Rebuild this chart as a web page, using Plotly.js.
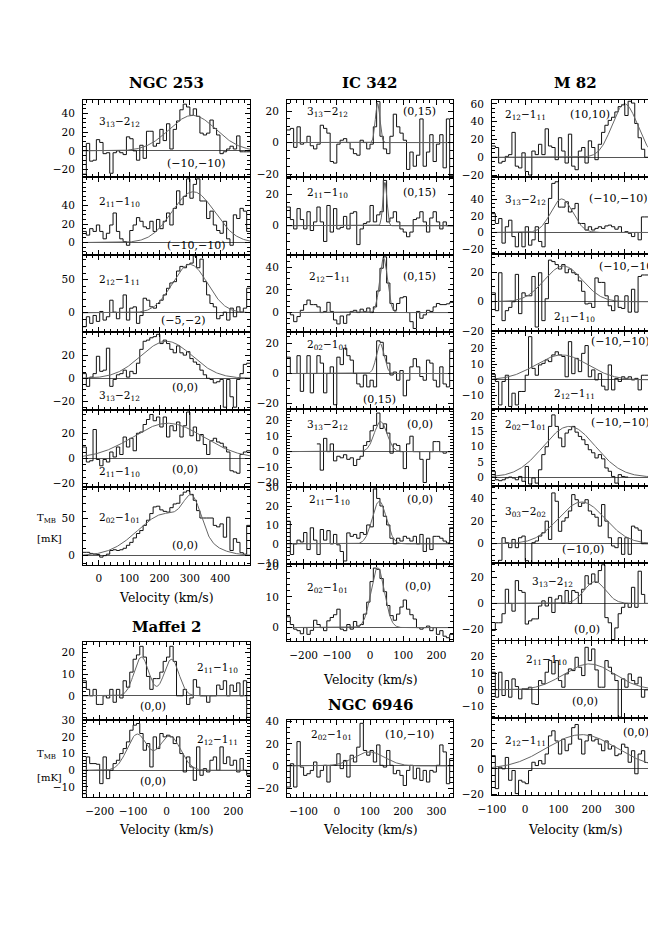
<!DOCTYPE html>
<html>
<head>
<meta charset="utf-8">
<script src="https://cdn.plot.ly/plotly-3.0.1.min.js"></script>
<style>html,body{margin:0;padding:0;overflow:hidden;background:#fff}</style>
</head>
<body>
<div id="chart"></div>
<script>
// Spectra: each list starts at the left edge of its velocity axis.
// Channel widths (km/s)
const dv_n253 = 11, dv_maf = 10, dv_ic = 10, dv_n6946 = 10, dv_m82 = 10;

// NGC 253
const n253_313a = [-25, 8, -11, -10, 12, 9, -3, -2, -24, -2, 0, -2, -4, 15, 13, 0, -10, 6, -8, 21, 21, 5, 8, 23, 11, 29, 2, 23, 32, 44, 50, 47, 38, 45, 37, 19, 17, 19, 33, 24, 17, -3, -1, 2, 5, 2, 16, -1, -1, -1];
const n253_211a = [12, 8, 15, 12, 19, 12, 4, 10, 19, 32, 12, 4, 1, -3, 13, 19, 27, 23, 17, 15, 23, 12, 25, 15, 23, 32, 19, 37, 56, 41, 50, 69, 48, 63, 69, 45, 45, 26, 34, 19, 13, 10, 23, 4, -3, 30, 26, 37, 34, 12];
const n253_212 = [-21, -6, -16, -4, -13, 2, -11, -6, 19, 1, -9, 7, 27, -11, 7, 9, -16, -4, 22, 19, 9, 7, 14, 19, 27, 37, 45, 47, 63, 70, 68, 73, 75, 86, 68, 81, 47, 27, 14, 9, -9, -4, 1, -11, 7, -6, 9, 1, 7, 37];
const n253_313b = [4, -7, 1, 4, 19, 6, 7, 26, -7, -1, 3, 4, 7, 1, 6, 4, 13, 25, 32, 33, 35, 36, 38, 30, 33, 30, 25, 22, 28, 22, 20, 23, 17, 14, 12, 7, 3, 0, -1, -4, -3, -1, -25, -1, -16, -25, -1, 4, 12, 13];
const n253_211b = [9, -3, -2, 23, -1, -6, -1, -3, 5, 1, 9, 3, 17, 9, 16, 6, 20, 21, 27, 31, 35, 30, 33, 25, 33, 17, 26, 22, 29, 17, 26, 37, 18, 25, 14, 19, 11, 3, 14, 16, 13, 12, 9, 5, -10, -11, -12, 3, 5, 6];
const n253_202 = [4.5, 4.5, 3, 2, 1.5, -2, 0, 2, 7, 8, 7, 8, 10, 14, 18, 24, 30, 34, 41, 48, 57, 66, 67, 62, 60, 59, 65, 70, 71, 82, 86, 88, 83, 75, 61, 51, 51, 51, 51, 41, 39, 43, 25, 52, 7, 23, 18, 4, 2, 41];
// Maffei 2
const maf_211 = [7, 3, 0, 3, -4, -4, 0, -1, 3, -3, 3, -1, 7, 4, 11, 17, 19, 23, 18, 9, 3, 8, 8, 11, 16, 18, 23, 16, 0, 0, 3, -4, -1, 7.5, 4, 0, 0, -3, 0, 0, 5, 3, 7, 0, 5, 2, 6, 0, 7, -10];
const maf_212 = [-14, 8, 4, 4, 3.6, -8, 8, -5, 0, 4, 6, 10, 13, 17, 24, 27, 28, 22, 12, 16, 2, 20, 13, 22, 20, 21, 20, 16, 20, 10, -1, 8, 2, -6, 14, -3, 1, -1, 6, 8, 0, 14, 4, 8, 3, 6, -1, 7, 0, -3];
// IC 342
const ic_313a = [8, 9, -3, 10, -1, 0, 4, -2, -4, -1, 11, 9, 6, -12, -13, -1, 1.5, 2.5, 0, -4, -7, -8, 1.5, 0, -4, -1, 10, 26, 4, -4, -7, 4, 18, 10, 6, 1.5, -17, -6, -15, -8, 15, -15, -6, 5, -12, -1, 5, -16, 15, -21];
const ic_211a = [12, 4, -2, 11, 4, -2, 9, -3, 2.5, 12, 2.5, -10, 13, -4, 11, -2, -1, 6, -2, 8, 9, -12, -2, 1.5, 2.5, 13, 2.5, 7, 9, 29, 2.5, 5, 9, 2.5, -2, -4, -7, -4, 4, 5, 9, 2.5, -4, 5, 9, 2.5, -2, 2.5, 0, 0];
const ic_212 = [0, -2, -8, -3.5, 2, 7, 11, 7, 7, 5, 0, 1, 9, 1, -6.5, -10, -3, -9.5, -2, 1, 2, 0, 3, 1, 4, 0, 5, 19, 39, 49, 26, 8, 2, 8, 13, 14, 0, -8, -14, 1, -5, -2, 2, 1, 5, 8, 7, 7, 7.7, 9];
const ic_202a = [11, 0, 0, 12, -12, 0, 12, -13, 0, 12, 7, -13, 0, 4.5, -21, 11, 6, 17, 12, 9, 0, -7, -9, -1, -9, -4.5, -9, 22, 21, 12, 7, -1, 1, -4.5, 2, -15, -4.5, 4.5, 10, 4.5, -2, -4.5, 9, 7, -4.5, -9, 4.5, -7, -9, 16];
const ic_313b = [null, null, null, null, null, null, null, null, null, 5, -12, 8.6, 0, 5, -6, -3, -4, -2, -5, -4, -9, -5, -3, 4, 6.5, 13.5, 17, 25, 15, 18, 12, -1, 5, 4, 0, -11, 5, 10, 0, 0, -5, -20, -5, 0, 6.5, 6.5, 0, -1, 0, 0];
const ic_211b = [12, -5.6, 0, 2, 1, 6, -3, 8.5, 2, -5.6, 7.6, 2, 7, 0, 5, -0.5, -4, -9, 5.8, 4, 5, 3, 6, 5, 10, 9, 29, 24, 20, 14.6, 10, 3, 0, 3, 1.5, 4, 3, 1.5, 4, 0, 5, -4, 3, -3, 4, 4, 3, 1.5, 0.5, 8.5];
const ic_202b = [3.5, 1, -0.5, -1, -2, 0, -2.2, -0.9, 2.4, 1, 0, -1, 2.2, 3.3, 4.2, 6, -0.5, -1, 1, -0.5, 2, 0.5, 1, 4.4, 8.3, 15, 19.4, 19, 16, 11.7, 7.2, 3.9, 2.4, 4.4, 6.7, 9, 6, 4.2, 2.8, 0, -0.5, 0, 0.5, -1, 0, -2.2, -1, -2.8, -3.3, -2.2];
// NGC 6946
const n6946_202 = [-19, 2, -19, 22, -1, -8.5, -7, -4, 3.6, -10, -4, 0.6, -14.5, 0.6, 0.6, 11, -2.4, 5, -10, 9.7, 3.6, 17, 38.5, 14, 9.7, 14, 3.6, 19, 0.6, -1, 14, 0.6, -7, -4, -8.5, -17.6, -4, 0.6, -11.5, -2, -13, -4, -14.5, -4, -5.5, 0.6, 19, 12.7, -16, 6.7];
// M 82
const m82_212a = [12.7, 11, -6.5, -4.6, 1, 3, 28, -10, -12, 5, -16, -20, 7, 3, 14.6, 3, 32, 12.7, 11, -2.7, 22, 7, -6.5, 26, -10, -14, 7, 11, -6.5, 18.5, 11, -2.7, 14.6, 28, 36, 41.5, 45, 51, 57, 59, 47, 63, 61, 38, 22, 9, 0];
const m82_313a = [23, 11, 17, -13, 7, 15, -5, -17.5, 0, -17.5, 7, -15.5, -9, 7, -11, -17.5, 11, 41.6, 60, 62, 31, 31, 37.5, 25, 29, 35.5, 11, 11, 3, 7, 3, 5, 7, 5, 8, 9, 7, 4, 7, 0, 1, -1, -5, 0, -9, 19, 19];
const m82_211a = [6, -6, 19.5, -12.7, -6, -3.8, 0, 18.4, -8, 6, 4, 4, 17, -17, 19.5, -12.7, 2, 28, 27, 25, 22, 25, 19.5, 22, 19.5, 18.4, 14, 7, -1.5, -1, -3.8, 16, 13, 13, 4, -2.7, -6, 4, -3.8, -4.5, 4, -7, 8.4, -7, 17, 18, 18];
const m82_212b = [3.6, -1, -16, -1, 3, -17, -8.5, -16, -7.4, -7.4, 3, 27.7, 7.4, 3, 9.6, 10.6, 12.8, 11.7, 16, 18, 16, 15, 2, 24.5, 4, 13.8, 5.3, 17, 22, 2, 6.4, 0, 4, -4, -6.4, 9.6, -6.4, 1, -1, 2, 1, 2, 0, 1, -6.4, 3, 3];
const m82_202 = [1.9, -0.9, -1.2, -0.9, -0.3, 0, -0.3, -0.9, 0.2, -1.4, 3.5, -2.3, -0.3, -2, 2.4, 7.4, 10, 16.7, 20.5, 16.7, 12.9, 10, 14.5, 15.6, 16.7, 14.8, 13.4, 12.3, 10.7, 9, 8, 6.3, 7.4, 6, 3, 1.9, 0.2, -2, 0.8, 0.2, 0];
const m82_303 = [null, null, -14.7, 5.3, 0.9, -3.5, 3.8, -3.5, 5.3, 6.8, -15, -16.8, 0.9, 2.4, 6.8, 9.7, 20, 3.8, 45, 37.6, 11, 20, 23, 29, 43.5, 39, 33, 36, 39, 29, 26, 23.5, 15.6, 34.7, 20, 5.3, -2, -3.5, 5.3, -9.4, 5.3, -9.4, 15.6, 14, 12, 0, 0];
const m82_313b = [-21, -15, -15, -8, 11, 0, -6, 17.7, 10, 8.6, -16, -13.5, -12, -12, -2, 2, -2, 4.7, -7, 3.4, 6, 0, 10, 0, 10, 8.6, 0, 11, 21.5, 15, 22.9, 16.4, 25.5, 30, -11, -15, -28, -19, -8, -3, 0, -3, 12.5, -3, 25, 7, 0];
const m82_211b = [10.6, -4.4, 10.6, -3.4, 5.6, -4.4, 6.6, 2, -5.4, 0.6, 0.6, 1.6, -8.4, -8.8, 5.6, 3.6, 10.6, 17.6, 9.6, 17.6, 5.6, 1.6, 9.6, 12.6, 11.6, 19.6, 13.6, 8.6, 25.6, 17.6, 24.6, 12, 1.6, 1.6, 17.6, 13.6, 9.6, 5.6, -16.4, 6.6, 1.6, 9.6, 5.6, 3.6, 7.6, -4.4, 0];
const m82_212c = [10.4, -15.6, 1.3, 0, 9, -9, -1.3, -19.5, -9, -10.4, -11.7, -1.3, 5.2, 2.6, 6.5, 3.9, 11.7, 26, 30, 22, 11.7, 23.4, 14.3, 19.5, 32.5, 35, 23.4, 11.7, 22, 27, 22, 23.4, 19.5, 14.3, 22, 15.6, 18, 10.4, 11.7, 19.5, 17, 5.2, 14.3, -3.9, 11.7, 14.3, 5];

// Gaussian fits: [peak (mK), centre (km/s), FWHM (km/s)] for each component
const fit_n253_1 = [[38, 309, 181]];
const fit_n253_2 = [[55, 311, 165]];
const fit_n253_3 = [[73, 300, 137]];
const fit_n253_4 = [[32, 223, 198]];
const fit_n253_5 = [[28, 228, 275]];
const fit_n253_6 = [[57, 223, 220], [44, 309, 67]];
const fit_maf_1 = [[18, -75, 52], [17, 15, 52]];
const fit_maf_2 = [[21.5, -88, 70], [20.5, 10, 75]];
const fit_ic_1 = [[25, 23, 16]];
const fit_ic_2 = [[28, 45, 14]];
const fit_ic_3 = [[48, 41, 28]];
const fit_ic_4 = [[20, 31, 28]];
const fit_ic_5 = [[19.5, 32, 45]];
const fit_ic_6 = [[22.5, 28, 50]];
const fit_ic_7 = [[19.5, 23, 48]];
const fit_n6946 = [[12.7, 98, 110]];
const fit_m82_1 = [[60, 300, 90]];
const fit_m82_2 = [[41, 110, 77]];
const fit_m82_3 = [[24, 115, 135]];
const fit_m82_4 = [[16, 110, 185]];
const fit_m82_5 = [[16.7, 133, 185]];
const fit_m82_6 = [[37, 170, 165]];
const fit_m82_7 = [[17, 210, 75]];
const fit_m82_8 = [[15.6, 193, 180]];
const fit_m82_9 = [[27, 170, 250]];

// velocity axes and their tick labels
const xr_n253 = [-52, 498], xt_n253 = [0, 100, 200, 300, 400];
const xr_maf = [-250, 250], xt_maf = [-200, -100, 0, 100, 200];
const xr_ic = [-250, 250], xt_ic = [-200, -100, 0, 100, 200];
const xr_n6946 = [-150, 350], xt_n6946 = [-100, 0, 100, 200, 300];
const xr_m82 = [-100, 400], xt_m82 = [-100, 0, 100, 200, 300, 400];

// one entry per panel: source, row, spectrum, fit, T range, T tick labels, minor step, line, offset
const panels = [
  ['n253', 0, n253_313a, fit_n253_1, [-28, 55], [-20, 0, 20, 40], 5, '3<sub>13</sub>−2<sub>12</sub>', '(−10,−10)'],
  ['n253', 1, n253_211a, fit_n253_2, [-13, 71], [0, 20, 40], 5, '2<sub>11</sub>−1<sub>10</sub>', '(−10,−10)'],
  ['n253', 2, n253_212, fit_n253_3, [-29, 88], [0, 50], 10, '2<sub>12</sub>−1<sub>11</sub>', '(−5,−2)'],
  ['n253', 3, n253_313b, fit_n253_4, [-27, 40], [-20, 0, 20], 5, '3<sub>13</sub>−2<sub>12</sub>', '(0,0)'],
  ['n253', 4, n253_211b, fit_n253_5, [-23, 39], [-20, 0, 20], 5, '2<sub>11</sub>−1<sub>10</sub>', '(0,0)'],
  ['n253', 5, n253_202, fit_n253_6, [-12, 93], [0, 50], 10, '2<sub>02</sub>−1<sub>01</sub>', '(0,0)'],
  ['maf', 0, maf_211, fit_maf_1, [-11, 25], [0, 10, 20], 2, '2<sub>11</sub>−1<sub>10</sub>', '(0,0)'],
  ['maf', 1, maf_212, fit_maf_2, [-16, 30.4], [-10, 0, 10, 20, 30], 2, '2<sub>12</sub>−1<sub>11</sub>', '(0,0)'],
  ['ic', 0, ic_313a, fit_ic_1, [-22, 27], [-20, 0, 20], 5, '3<sub>13</sub>−2<sub>12</sub>', '(0,15)'],
  ['ic', 1, ic_211a, fit_ic_2, [-18.4, 31], [0, 20], 5, '2<sub>11</sub>−1<sub>10</sub>', '(0,15)'],
  ['ic', 2, ic_212, fit_ic_3, [-17, 51], [0, 20, 40], 5, '2<sub>12</sub>−1<sub>11</sub>', '(0,15)'],
  ['ic', 3, ic_202a, fit_ic_4, [-24, 28], [-20, 0, 20], 5, '2<sub>02</sub>−1<sub>01</sub>', '(0,15)'],
  ['ic', 4, ic_313b, fit_ic_5, [-22.6, 27.5], [-20, -10, 0, 10, 20], 2, '3<sub>13</sub>−2<sub>12</sub>', '(0,0)'],
  ['ic', 5, ic_211b, fit_ic_6, [-10.5, 30.3], [-10, 0, 10, 20, 30], 2, '2<sub>11</sub>−1<sub>10</sub>', '(0,0)'],
  ['ic', 6, ic_202b, fit_ic_7, [-4.4, 20.8], [0, 10, 20], 2, '2<sub>02</sub>−1<sub>01</sub>', '(0,0)'],
  ['n6946', 0, n6946_202, fit_n6946, [-28, 41.5], [-20, 0, 20, 40], 5, '2<sub>02</sub>−1<sub>01</sub>', '(10,−10)'],
  ['m82', 0, m82_212a, fit_m82_1, [-22, 65], [-20, 0, 20, 40, 60], 5, '2<sub>12</sub>−1<sub>11</sub>', '(10,10)'],
  ['m82', 1, m82_313a, fit_m82_2, [-26.5, 68], [-20, 0, 20, 40], 5, '3<sub>13</sub>−2<sub>12</sub>', '(−10,−10)'],
  ['m82', 2, m82_211a, fit_m82_3, [-20, 32], [-20, 0, 20], 5, '2<sub>11</sub>−1<sub>10</sub>', '(−10,−10)'],
  ['m82', 3, m82_212b, fit_m82_4, [-18.5, 31], [-10, 0, 10, 20], 2, '2<sub>12</sub>−1<sub>11</sub>', '(−10,−10)'],
  ['m82', 4, m82_202, fit_m82_5, [-3, 22.5], [0, 5, 10, 15, 20], 1, '2<sub>02</sub>−1<sub>01</sub>', '(−10,−10)'],
  ['m82', 5, m82_303, fit_m82_6, [-17.5, 51], [0, 20, 40], 5, '3<sub>03</sub>−2<sub>02</sub>', '(−10,0)'],
  ['m82', 6, m82_313b, fit_m82_7, [-29, 31], [-20, 0, 20], 5, '3<sub>13</sub>−2<sub>12</sub>', '(0,0)'],
  ['m82', 7, m82_211b, fit_m82_8, [-17, 29.5], [-10, 0, 10, 20], 2, '2<sub>11</sub>−1<sub>10</sub>', '(0,0)'],
  ['m82', 8, m82_212c, fit_m82_9, [-21, 40], [-20, 0, 20], 5, '2<sub>12</sub>−1<sub>11</sub>', '(0,0)']
];

// ---- page geometry (pixels) ----
const W = 670, H = 926;
const groups = {
  n253: {x0: 83, x1: 250, top: 99.5, h: 77.5, rows: 6, xr: xr_n253, xt: xt_n253, dv: dv_n253, name: 'NGC 253', ty: 83, vy: 597},
  maf: {x0: 83, x1: 250, top: 642, h: 77.5, rows: 2, xr: xr_maf, xt: xt_maf, dv: dv_maf, name: 'Maffei 2', ty: 627, vy: 829},
  ic: {x0: 287, x1: 453, top: 100, h: 77.3, rows: 7, xr: xr_ic, xt: xt_ic, dv: dv_ic, name: 'IC 342', ty: 83, vy: 679},
  n6946: {x0: 287, x1: 453, top: 720, h: 77, rows: 1, xr: xr_n6946, xt: xt_n6946, dv: dv_n6946, name: 'NGC 6946', ty: 705, vy: 829},
  m82: {x0: 492, x1: 658, top: 99.5, h: 77.33, rows: 9, xr: xr_m82, xt: xt_m82, dv: dv_m82, name: 'M 82', ty: 83, vy: 829}
};
// label placement inside each panel (fractions of the panel): line x,y ; offset x(centre),y
const place = [
  [0.085, 0.71, 0.68, 0.17], [0.085, 0.68, 0.68, 0.12], [0.085, 0.67, 0.6, 0.15],
  [0.085, 0.17, 0.61, 0.29], [0.085, 0.2, 0.61, 0.22], [0.085, 0.6, 0.61, 0.25],
  [0.67, 0.66, 0.42, 0.17], [0.67, 0.74, 0.42, 0.2],
  [0.11, 0.84, 0.8, 0.85], [0.11, 0.8, 0.8, 0.8], [0.12, 0.71, 0.8, 0.72], [0.11, 0.83, 0.56, 0.12],
  [0.11, 0.8, 0.8, 0.8], [0.12, 0.83, 0.8, 0.83], [0.11, 0.69, 0.79, 0.7],
  [0.13, 0.81, 0.74, 0.81],
  [0.066, 0.8, 0.59, 0.8], [0.066, 0.7, 0.76, 0.72], [0.36, 0.19, 0.825, 0.84], [0.36, 0.19, 0.775, 0.87],
  [0.066, 0.79, 0.775, 0.82], [0.066, 0.67, 0.55, 0.18], [0.23, 0.76, 0.57, 0.14], [0.19, 0.75, 0.56, 0.21],
  [0.066, 0.7, 0.87, 0.81]
];

const FONT = 'DejaVu Serif';

function model(comps, v) {
  let s = 0;
  for (const [a, c, w] of comps) {
    const sg = w / 2.3548;
    s += a * Math.exp(-0.5 * ((v - c) / sg) ** 2);
  }
  return s;
}

const data = [];
const layout = {
  width: W, height: H,
  margin: {l: 0, r: 0, t: 0, b: 0},
  paper_bgcolor: '#fff', plot_bgcolor: '#fff',
  showlegend: false,
  font: {family: FONT, size: 11, color: '#000'},
  annotations: []
};

const axBase = {
  showline: true, linecolor: '#000', linewidth: 1, mirror: 'allticks',
  ticks: 'inside', ticklen: 5, tickwidth: 1, tickcolor: '#000',
  showgrid: false, fixedrange: true,
  tickfont: {family: FONT, size: 10.5, color: '#000'}
};

panels.forEach((p, i) => {
  const [gk, row, spec, fit, yr, yt, mstep, line, offs] = p;
  const g = groups[gk];
  const n = i === 0 ? '' : String(i + 1);
  const xa = 'x' + n, ya = 'y' + n;
  const top = g.top + row * g.h, bot = top + g.h;
  const last = row === g.rows - 1;

  layout['xaxis' + n] = Object.assign({}, axBase, {
    anchor: ya, domain: [g.x0 / W, g.x1 / W], range: g.xr,
    tickmode: 'array', tickvals: g.xt, showticklabels: last, zeroline: false,
    ticklabelstandoff: 4,
    minor: {ticks: 'inside', ticklen: 3, tickcolor: '#000', tickmode: 'linear', tick0: 0, dtick: 20}
  });
  layout['yaxis' + n] = Object.assign({}, axBase, {
    anchor: xa, domain: [1 - bot / H, 1 - top / H], range: yr,
    tickmode: 'array', tickvals: yt, ticklabelstandoff: 5,
    zeroline: true, zerolinecolor: '#555', zerolinewidth: 1,
    minor: {ticks: 'inside', ticklen: 3, tickcolor: '#000', tickmode: 'linear', tick0: 0, dtick: mstep}
  });

  // histogram drawn on channel edges
  const xs = [], ys = [];
  spec.forEach((v, k) => { xs.push(g.xr[0] + k * g.dv); ys.push(v); });
  xs.push(g.xr[0] + spec.length * g.dv); ys.push(spec[spec.length - 1]);
  data.push({x: xs, y: ys, xaxis: xa, yaxis: ya, type: 'scatter', mode: 'lines',
    line: {shape: 'hv', color: '#111', width: 1}, hoverinfo: 'skip'});

  // gaussian fit
  const fx = [], fy = [];
  for (let v = g.xr[0]; v <= g.xr[1]; v += 2) { fx.push(v); fy.push(model(fit, v)); }
  data.push({x: fx, y: fy, xaxis: xa, yaxis: ya, type: 'scatter', mode: 'lines',
    line: {color: '#666', width: 1}, hoverinfo: 'skip'});

  const pl = place[i];
  layout.annotations.push({xref: xa + ' domain', yref: ya + ' domain', x: pl[0], y: pl[1],
    xanchor: 'left', yanchor: 'middle', showarrow: false, text: line,
    font: {family: FONT, size: 10.5, color: '#000'}});
  layout.annotations.push({xref: xa + ' domain', yref: ya + ' domain', x: pl[2], y: pl[3],
    xanchor: 'center', yanchor: 'middle', showarrow: false, text: offs,
    font: {family: FONT, size: 11, color: '#000'}});
});

// source titles and velocity labels
Object.values(groups).forEach(g => {
  const cx = (g.x0 + g.x1) / 2 / W;
  layout.annotations.push({xref: 'paper', yref: 'paper', x: cx, y: 1 - g.ty / H,
    xanchor: 'center', yanchor: 'middle', showarrow: false, text: '<b>' + g.name + '</b>',
    font: {family: FONT, size: 15, color: '#000'}});
  layout.annotations.push({xref: 'paper', yref: 'paper', x: cx, y: 1 - g.vy / H,
    xanchor: 'center', yanchor: 'middle', showarrow: false, text: 'Velocity (km/s)',
    font: {family: FONT, size: 12.5, color: '#000'}});
});

// intensity unit labels
[[518, 538], [754, 777]].forEach(([t, u]) => {
  layout.annotations.push({xref: 'paper', yref: 'paper', x: 35 / W, y: 1 - t / H,
    xanchor: 'left', yanchor: 'middle', showarrow: false, text: 'T<sub>MB</sub>',
    font: {family: FONT, size: 10, color: '#000'}});
  layout.annotations.push({xref: 'paper', yref: 'paper', x: 35 / W, y: 1 - u / H,
    xanchor: 'left', yanchor: 'middle', showarrow: false, text: '[mK]',
    font: {family: FONT, size: 10, color: '#000'}});
});

Plotly.newPlot('chart', data, layout, {staticPlot: true, displayModeBar: false});
</script>
</body>
</html>
